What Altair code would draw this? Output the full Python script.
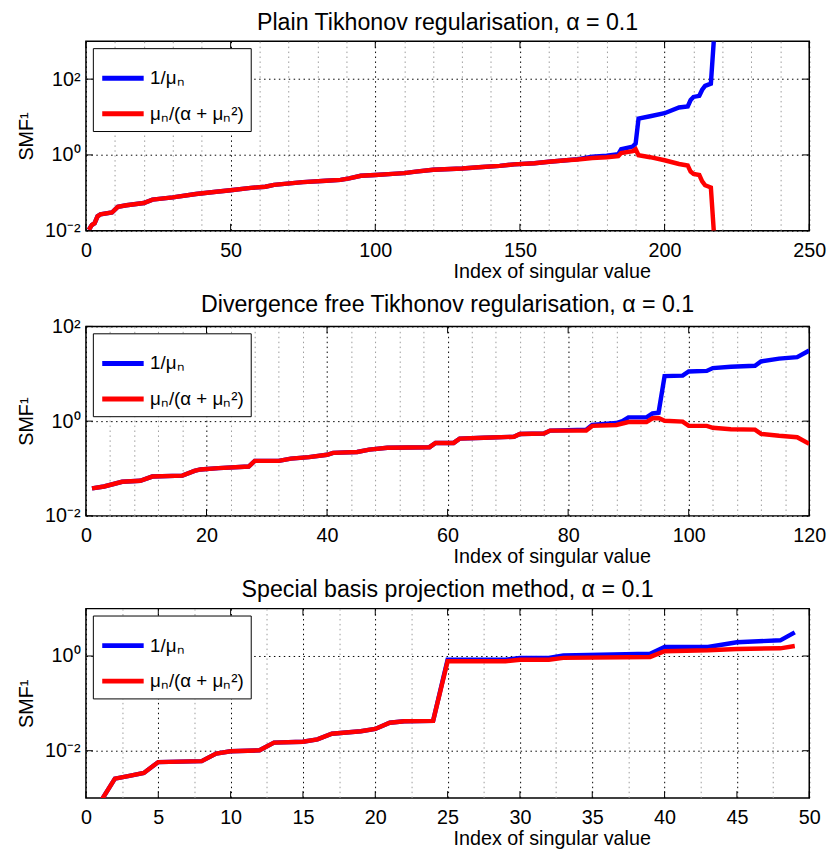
import altair as alt
import pandas as pd

BLUE_LABEL = "1/μₙ"
RED_LABEL = "μₙ/(α + μₙ²)"
FONT = "Liberation Sans"

# ---------------- Panel 1: Plain Tikhonov ----------------
p1_title = "Plain Tikhonov regularisation, α = 0.1"
p1_index = [1, 2, 3, 4, 5, 9, 11, 14, 20, 23, 30, 38, 45, 50, 57, 62, 65, 75, 83, 88,
            91, 95, 100, 106, 110, 114, 120, 130, 137, 143, 148, 155, 160, 166, 170, 175,
            180, 184, 185, 189, 190, 191, 195, 200, 205, 208, 209, 210, 212, 213, 214, 216, 217]
p1_blue = [0.0105, 0.0141, 0.0158, 0.0240, 0.0269, 0.0302, 0.0427, 0.0468, 0.0537, 0.0661,
           0.0759, 0.0933, 0.107, 0.117, 0.135, 0.145, 0.162, 0.191, 0.209, 0.219,
           0.240, 0.282, 0.295, 0.316, 0.331, 0.363, 0.407, 0.437, 0.479, 0.513,
           0.562, 0.603, 0.661, 0.724, 0.776, 0.891,
           0.955, 1.05, 1.41, 1.66, 2.00, 9.12, 10.5, 12.6, 17.8, 19.1, 28.2, 33.9, 36.3, 52.5, 66.1, 75.9, 1000.0]
p1_red = [0.0105, 0.0141, 0.0158, 0.0240, 0.0269, 0.0302, 0.0427, 0.0468, 0.0537, 0.0661,
          0.0759, 0.0933, 0.107, 0.117, 0.135, 0.145, 0.162, 0.191, 0.209, 0.219,
          0.240, 0.282, 0.295, 0.316, 0.331, 0.363, 0.407, 0.437, 0.479, 0.513,
          0.562, 0.603, 0.661, 0.724, 0.759, 0.832,
          0.871, 0.930, 1.12, 1.26, 1.41, 0.977, 0.871, 0.724, 0.575, 0.525, 0.363, 0.316, 0.295, 0.200, 0.158, 0.138, 0.0100]
p1_xgrid = list(range(0, 251, 10))
p1_xmajor = [0, 50, 100, 150, 200, 250]
p1_ydomain = [0.01, 1000]
p1_yticks = [0.01, 1, 100]

# ---------------- Panel 2: Divergence free Tikhonov ----------------
p2_title = "Divergence free Tikhonov regularisation, α = 0.1"
p2_index = [1, 3, 6, 9, 11, 16, 18, 19, 22, 27, 28, 32, 34, 37, 40, 41, 45, 47, 50, 57,
            58, 61, 62, 66, 71, 72, 76, 77, 83, 84, 88, 89, 90, 93, 94, 95, 96, 99, 100,
            103, 104, 107, 111, 112, 115, 118, 120]
p2_blue = [0.0380, 0.0417, 0.0525, 0.0550, 0.0676, 0.0708, 0.0891, 0.0955, 0.102, 0.110,
           0.145, 0.145, 0.162, 0.174, 0.195, 0.214, 0.224, 0.251, 0.275, 0.282,
           0.347, 0.347, 0.427, 0.447, 0.468, 0.537, 0.550, 0.631, 0.661, 0.832,
           0.912, 1.00, 1.20, 1.20, 1.45, 1.51, 8.91, 9.12, 11.2, 11.5, 13.2, 14.1,
           14.8, 18.2, 20.9, 22.4, 30.9]
p2_red = [0.0380, 0.0417, 0.0525, 0.0550, 0.0676, 0.0708, 0.0891, 0.0955, 0.102, 0.110,
          0.145, 0.145, 0.162, 0.174, 0.195, 0.214, 0.224, 0.251, 0.275, 0.282,
          0.347, 0.347, 0.427, 0.447, 0.468, 0.537, 0.550, 0.631, 0.631, 0.794,
          0.832, 0.891, 0.955, 0.955, 1.15, 1.17, 1.02, 0.977, 0.794, 0.794, 0.724, 0.676,
          0.661, 0.537, 0.490, 0.457, 0.331]
p2_xgrid = list(range(0, 121, 4))
p2_xmajor = [0, 20, 40, 60, 80, 100, 120]
p2_ydomain = [0.01, 100]
p2_yticks = [0.01, 1, 100]

# ---------------- Panel 3: Special basis projection ----------------
p3_title = "Special basis projection method, α = 0.1"
p3_index = [1, 2, 3, 4, 5, 8, 9, 10, 12, 13, 15, 16, 17, 19, 20, 21, 22, 24,
            25, 29, 30, 32, 33, 39, 40, 43, 45, 48, 49]
p3_blue = [0.000832, 0.00257, 0.00295, 0.00339, 0.00575, 0.00603, 0.00871, 0.00977, 0.0102,
           0.0148, 0.0155, 0.0174, 0.0229, 0.0257, 0.0288, 0.0389, 0.0417, 0.0427,
           0.832, 0.832, 0.912, 0.912, 1.02, 1.12, 1.55, 1.55, 1.95, 2.14, 3.16]
p3_red = [0.000832, 0.00257, 0.00295, 0.00339, 0.00575, 0.00603, 0.00871, 0.00977, 0.0102,
          0.0148, 0.0155, 0.0174, 0.0229, 0.0257, 0.0288, 0.0389, 0.0417, 0.0427,
          0.776, 0.776, 0.832, 0.832, 0.912, 0.955, 1.26, 1.32, 1.41, 1.45, 1.62]
p3_xgrid = [i * 2.5 for i in range(21)]
p3_xmajor = [0, 5, 10, 15, 20, 25, 30, 35, 40, 45, 50]
p3_ydomain = [0.001, 10]
p3_yticks = [0.01, 1]

W, H = 733, 192
TICK = 7


def make_panel(title, idx, blue, red, xgrid, xmajor, ydomain, yticks, title_offset):
    major_step = xmajor[1] - xmajor[0]
    xscale = alt.Scale(domain=[xmajor[0], xmajor[-1]], nice=False, zero=False)
    yscale = alt.Scale(type="log", domain=ydomain, nice=False)
    color_scale = alt.Scale(domain=[BLUE_LABEL, RED_LABEL], range=["#0000ff", "#ff0000"])

    xaxis = alt.Axis(
        values=xgrid, format="d",
        labelExpr=f"datum.value % {major_step} === 0 ? datum.label : ''",
        grid=True,
        gridColor={"condition": {"test": f"datum.value % {major_step} === 0", "value": "#000000"},
                   "value": "#9a9a9a"},
        gridDash=[1.5, 3.5], gridWidth=1,
        ticks=False, domain=False,
        labelFont=FONT, labelFontSize=20, labelColor="black", labelPadding=10,
        labelFlush=False, labelOverlap=False,
        title="Index of singular value", titleFont=FONT, titleFontSize=20,
        titleFontWeight="normal", titleColor="black",
        titleX=472, titleY=31, titleAlign="center", titleBaseline="top",
    )
    yaxis = alt.Axis(
        values=yticks,
        labelExpr="datum.value < 0.1 ? '10⁻²' : (datum.value < 10 ? '10⁰' : '10²')",
        grid=True, gridColor="#000000", gridDash=[1.5, 3.5], gridWidth=1,
        ticks=False, domain=False,
        labelFont=FONT, labelFontSize=20, labelColor="black", labelPadding=6,
        title="SMF¹", titleFont=FONT, titleFontSize=20, titleFontWeight="normal",
        titleColor="black", titleAngle=270, titleX=-50, titleY=H / 2,
        titleAlign="center", titleBaseline="bottom",
    )
    legend = alt.Legend(
        title=None, orient="top-left", offset=7,
        symbolType="stroke", symbolSize=1764, symbolStrokeWidth=5,
        labelFont=FONT, labelFontSize=19, labelColor="black", labelOffset=4,
        strokeColor="black", fillColor="white", padding=7, rowPadding=2,
    )

    df_b = pd.DataFrame({"idx": idx, "val": blue, "series": BLUE_LABEL})
    df_r = pd.DataFrame({"idx": idx, "val": red, "series": RED_LABEL})

    def line(df):
        return alt.Chart(df).mark_line(strokeWidth=4.5, clip=True).encode(
            x=alt.X("idx:Q", scale=xscale, axis=xaxis),
            y=alt.Y("val:Q", scale=yscale, axis=yaxis),
            color=alt.Color("series:N", scale=color_scale, legend=legend),
        )

    xt = pd.DataFrame({"v": xmajor})
    yt = pd.DataFrame({"v": yticks})
    rule_x = alt.X("v:Q", scale=xscale, axis=xaxis)
    rule_y = alt.Y("v:Q", scale=yscale, axis=yaxis)
    ticks = [
        alt.Chart(xt).mark_rule(color="black", strokeWidth=1).encode(x=rule_x, y=alt.value(H), y2=alt.value(H - TICK)),
        alt.Chart(xt).mark_rule(color="black", strokeWidth=1).encode(x=rule_x, y=alt.value(0), y2=alt.value(TICK)),
        alt.Chart(yt).mark_rule(color="black", strokeWidth=1).encode(y=rule_y, x=alt.value(0), x2=alt.value(TICK)),
        alt.Chart(yt).mark_rule(color="black", strokeWidth=1).encode(y=rule_y, x=alt.value(W), x2=alt.value(W - TICK)),
    ]

    return alt.layer(line(df_b), line(df_r), *ticks).properties(
        width=W, height=H,
        title=alt.TitleParams(title, font=FONT, fontSize=23.5, fontWeight="normal",
                              color="black", offset=title_offset, baseline="bottom", anchor="middle"),
    )


p1 = make_panel(p1_title, p1_index, p1_blue, p1_red, p1_xgrid, p1_xmajor, p1_ydomain, p1_yticks, -18)
p2 = make_panel(p2_title, p2_index, p2_blue, p2_red, p2_xgrid, p2_xmajor, p2_ydomain, p2_yticks, -24)
p3 = make_panel(p3_title, p3_index, p3_blue, p3_red, p3_xgrid, p3_xmajor, p3_ydomain, p3_yticks, -17)

chart = (
    alt.vconcat(p1, p2, p3, spacing=10)
    .resolve_scale(x="independent", y="independent", color="independent")
    .resolve_legend(color="independent")
    .properties(padding={"left": 8, "top": -3, "right": 0, "bottom": 0}, background="white")
    .configure_view(stroke="black", strokeWidth=1.5)
)

chart.save("out.html", embed_options={"renderer": "svg", "actions": False})
